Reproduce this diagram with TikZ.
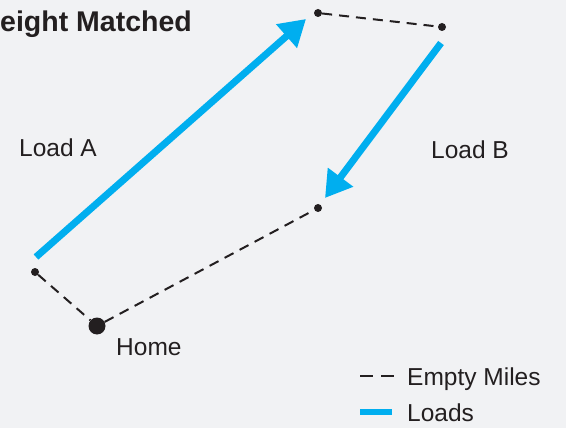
\documentclass[tikz,border=0pt]{standalone}
\usepackage{fontspec}
\setmainfont{Liberation Sans}
\usetikzlibrary{arrows.meta}
\definecolor{bgrey}{HTML}{F1F2F4}
\definecolor{loadblue}{HTML}{00AEEF}
\definecolor{ink}{HTML}{231F20}
\begin{document}
\begin{tikzpicture}[x=1pt,y=-1pt]
    \tikzset{%
      dot/.style={circle, fill=ink, inner sep=0pt, minimum width=8pt},
      hdot/.style={circle, fill=ink, inner sep=0pt, minimum width=17pt},
      empty/.style={ink, line width=2pt, dash pattern=on 10pt off 7pt},
      load/.style={loadblue, line width=7pt,
        -{Triangle[length=26pt, width=30pt]}},
      lbl/.style={anchor=base west, inner sep=0pt, text=ink,
        font=\fontsize{24.5}{28}\selectfont},
    }
    \fill[bgrey] (0,0) rectangle (566,428);
    \useasboundingbox (0,0) rectangle (566,428);

    \node[anchor=base east, inner sep=0pt, text=ink,
      font=\fontsize{28.5}{32}\selectfont\bfseries] (title) at (192,32) {eight Matched};

    \node[hdot] (H) at (97,326) {};
    \node[dot] (P) at (35,272) {};
    \node[dot] (Q) at (318,13) {};
    \node[dot] (R) at (442,27) {};
    \node[dot] (S) at (318,208) {};

    \draw [empty] (P) -- (H);
    \draw [empty] (H) -- (S);
    \draw [empty] (Q) -- (R);

    \coordinate (A0) at (36,257);
    \coordinate (A1) at (306,19);
    \draw [load] (A0) -- (A1);
    \coordinate (B0) at (441,43);
    \coordinate (B1) at (325,198);
    \draw [load] (B0) -- (B1);

    \node[lbl] (la) at (19,157) {Load A};
    \node[lbl] (lb) at (431,158) {Load B};
    \node[lbl] (home) at (116,355) {Home};

    % legend
    \coordinate (E0) at (360,376);
    \coordinate (E1) at (394,376);
    \draw [ink, line width=2pt, dash pattern=on 13pt off 8pt] (E0) -- (E1);
    \node[lbl] (le) at (407,385) {Empty Miles};
    \coordinate (L0) at (360,412);
    \coordinate (L1) at (392,412);
    \draw [loadblue, line width=6pt] (L0) -- (L1);
    \node[lbl] (ll) at (407,421) {Loads};
  \end{tikzpicture}
\end{document}
